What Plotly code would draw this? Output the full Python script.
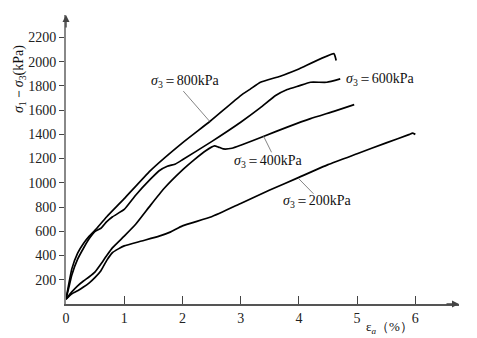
import plotly.graph_objects as go

# Axial strain (%) and deviator stress (kPa) for each confining pressure
strain_200 = [0, 0.1, 0.2, 0.3, 0.4, 0.5, 0.6, 0.7, 0.8, 0.9, 1.0, 1.3, 1.6, 1.8, 2.0, 2.5, 3.0, 3.5, 4.0, 4.5, 5.0, 5.5, 5.9, 5.95, 6.0]
stress_200 = [40, 85, 110, 140, 175, 220, 275, 360, 425, 455, 480, 520, 560, 595, 645, 720, 830, 940, 1045, 1150, 1240, 1330, 1400, 1410, 1400]

strain_400 = [0, 0.1, 0.2, 0.3, 0.4, 0.5, 0.6, 0.7, 0.8, 1.0, 1.2, 1.45, 1.68, 2.02, 2.2, 2.4, 2.55, 2.62, 2.7, 2.85, 3.0, 3.4, 3.8, 4.2, 4.6, 4.95]
stress_400 = [40, 100, 150, 190, 225, 265, 330, 400, 465, 560, 660, 814, 951, 1115, 1190, 1265, 1305, 1295, 1280, 1285, 1310, 1385, 1460, 1530, 1590, 1645]

strain_600 = [0, 0.05, 0.1, 0.2, 0.3, 0.4, 0.5, 0.6, 0.7, 0.8, 1.0, 1.2, 1.45, 1.6, 1.74, 1.88, 2.0, 2.5, 3.0, 3.34, 3.6, 3.8, 4.0, 4.2, 4.48, 4.71]
stress_600 = [40, 140, 240, 370, 460, 540, 600, 625, 680, 720, 780, 900, 1030, 1100, 1137, 1156, 1190, 1340, 1500, 1620, 1720, 1770, 1800, 1830, 1830, 1858]

strain_800 = [0, 0.05, 0.1, 0.2, 0.3, 0.4, 0.5, 0.7, 1.0, 1.45, 2.0, 2.48, 3.0, 3.17, 3.34, 3.68, 4.0, 4.6, 4.64]
stress_800 = [40, 170, 290, 420, 500, 560, 610, 720, 869, 1101, 1330, 1510, 1720, 1775, 1830, 1880, 1940, 2066, 2010]

# Curve labels: text, position, and leader line endpoints
label_texts = ["<i>σ</i><sub>3</sub>＝800kPa", "<i>σ</i><sub>3</sub>＝600kPa",
               "<i>σ</i><sub>3</sub>＝400kPa", "<i>σ</i><sub>3</sub>＝200kPa"]
label_x = [2.05, 4.78, 3.48, 4.32]
label_y = [1838, 1852, 1175, 842]
label_anchor = ["center", "left", "center", "center"]
leader_x = [[2.015, 2.47], None, [3.39, 3.53], [3.99, 4.25]]
leader_y = [[1757, 1506], None, [1388, 1252], [1038, 910]]

x_ticks = [0, 1, 2, 3, 4, 5, 6]
y_ticks = [200, 400, 600, 800, 1000, 1200, 1400, 1600, 1800, 2000, 2200]
x_max = 6.75
y_max = 2385

FONT = "Liberation Serif, Times New Roman, serif"

fig = go.Figure()

for xs, ys in [(strain_200, stress_200), (strain_400, stress_400),
               (strain_600, stress_600), (strain_800, stress_800)]:
    fig.add_trace(go.Scatter(
        x=xs, y=ys, mode="lines",
        line=dict(color="black", width=1.7, shape="spline", smoothing=0.4),
        hoverinfo="skip", showlegend=False,
    ))

for lx, ly in zip(leader_x, leader_y):
    if lx is None:
        continue
    fig.add_trace(go.Scatter(
        x=lx, y=ly, mode="lines",
        line=dict(color="#666", width=0.8),
        hoverinfo="skip", showlegend=False,
    ))

annotations = []
for t, x, y, a in zip(label_texts, label_x, label_y, label_anchor):
    annotations.append(dict(
        x=x, y=y, xref="x", yref="y", text=t, showarrow=False,
        xanchor=a, yanchor="middle",
        font=dict(family=FONT, size=14, color="#111"),
    ))

# Axis titles, placed in paper coordinates beside each axis
annotations.append(dict(
    x=-0.118, y=0.777, xref="paper", yref="paper",
    text="<i>σ</i><sub>1</sub>－<i>σ</i><sub>3</sub>(kPa)", textangle=-90, showarrow=False,
    xanchor="center", yanchor="middle",
    font=dict(family=FONT, size=14, color="#111"),
))
annotations.append(dict(
    x=0.822, y=-0.08, xref="paper", yref="paper",
    text="ε<sub><i>a</i></sub>（%）", showarrow=False,
    xanchor="center", yanchor="middle",
    font=dict(family=FONT, size=13, color="#111"),
))

# Arrowheads at the ends of both axes
annotations.append(dict(
    x=x_max, y=0, xref="x", yref="y", ax=-14, ay=0, text="",
    showarrow=True, arrowhead=2, arrowsize=1, arrowwidth=1.4, arrowcolor="#444",
))
annotations.append(dict(
    x=0, y=y_max, xref="x", yref="y", ax=0, ay=14, text="",
    showarrow=True, arrowhead=2, arrowsize=1, arrowwidth=1.4, arrowcolor="#444",
))

tick_font = dict(family=FONT, size=14, color="#222")

fig.update_layout(
    width=477, height=338,
    margin=dict(l=66, r=18, t=15, b=32),
    paper_bgcolor="white", plot_bgcolor="white",
    font=dict(family=FONT, size=13, color="#222"),
    annotations=annotations,
    xaxis=dict(
        range=[0, x_max], tickvals=x_ticks, ticktext=[str(v) for v in x_ticks],
        ticks="inside", ticklen=8, tickcolor="#444", tickwidth=1, tickfont=tick_font,
        showline=True, linecolor="#555", linewidth=1.5,
        showgrid=False, zeroline=False, fixedrange=True,
    ),
    yaxis=dict(
        range=[0, y_max], tickvals=y_ticks, ticktext=[str(v) for v in y_ticks],
        ticks="outside", ticklen=5, tickcolor="#444", tickwidth=1, tickfont=tick_font,
        showline=True, linecolor="#888", linewidth=2,
        showgrid=False, zeroline=False, fixedrange=True,
    ),
)

fig.write_html("out.html")
